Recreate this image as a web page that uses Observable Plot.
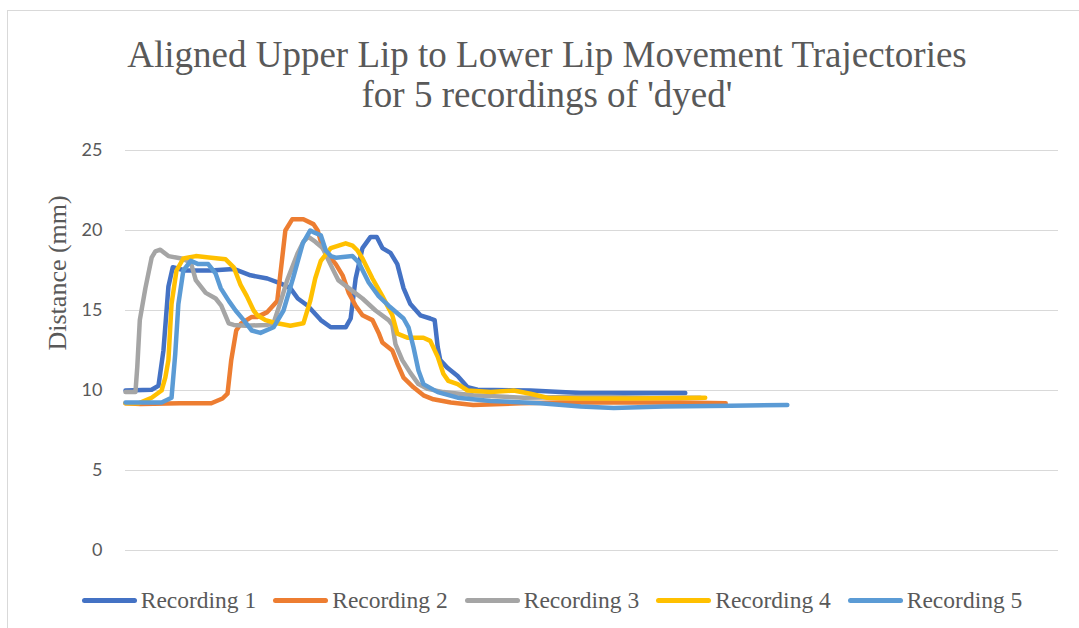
<!DOCTYPE html>
<html>
<head>
<meta charset="utf-8">
<script src="https://cdn.jsdelivr.net/npm/d3@7"></script>
<script src="https://cdn.jsdelivr.net/npm/@observablehq/plot@0.6"></script>
<style>
  html, body { margin: 0; padding: 0; background: #fff; }
  #wrap { position: relative; width: 1079px; height: 628px; overflow: hidden; background: #fff; }
  #frame { position: absolute; left: 7px; top: 10px; width: 1200px; height: 800px; border: 1px solid #d9d9d9; box-sizing: border-box; }
  #chart { position: absolute; left: 0; top: 0; }
  #title { position: absolute; left: 0; top: 35px; width: 1094px; text-align: center; font-size: 37px; line-height: 40px; color: #595959; }
  #legend { position: absolute; left: 0; top: 584px; width: 1104px; display: flex; justify-content: center; gap: 17px; font-size: 23.5px; color: #595959; line-height: 32px; }
  .item { display: flex; align-items: center; }
  .sw { width: 55px; height: 5px; border-radius: 3px; margin-right: 4px; }
</style>
</head>
<body>
<div id="wrap">
  <div id="frame"></div>
  <div id="chart"></div>
  <div id="title" style="font-family:'Liberation Serif',serif">Aligned Upper Lip to Lower Lip Movement Trajectories<br>for 5 recordings of 'dyed'</div>
  <div id="legend" style="font-family:'Liberation Serif',serif"></div>
</div>
<script>
// Series: [frame index, distance (mm)]
const seriesNames = ["Recording 1", "Recording 2", "Recording 3", "Recording 4", "Recording 5"];
const seriesColors = ["#4472C4", "#ED7D31", "#A5A5A5", "#FFC000", "#5B9BD5"];
const yTicks = [0, 5, 10, 15, 20, 25];

const rec1 = [[0,10.0],[4.2,10.05],[5.3,10.3],[6.1,12.5],[6.9,16.5],[7.6,17.7],[9.6,17.5],[13.7,17.5],[17.4,17.6],[20.1,17.2],[22.8,17.0],[24.9,16.7],[26.5,16.4],[27.7,15.75],[29.3,15.3],[31.4,14.4],[33.0,13.95],[35.4,13.95],[36.2,14.5],[37.0,17.0],[38.1,18.9],[39.4,19.6],[40.4,19.6],[41.3,18.9],[42.6,18.6],[43.7,17.9],[44.7,16.4],[45.8,15.4],[47.4,14.7],[49.0,14.5],[49.7,14.4],[50.2,12.7],[50.6,11.9],[51.8,11.4],[53.4,10.9],[55.0,10.2],[56.6,10.05],[65.1,10.0],[73.2,9.85],[81.2,9.85],[90.0,9.85]];

const rec2 = [[0,9.2],[2.4,9.15],[8.8,9.2],[13.8,9.2],[15.6,9.5],[16.4,9.8],[17.0,11.9],[17.8,13.75],[18.6,14.2],[20.3,14.6],[21.2,14.6],[22.8,14.9],[24.4,15.6],[25.2,18.3],[25.7,20.0],[26.8,20.7],[28.6,20.7],[30.2,20.4],[30.9,20.0],[31.7,18.9],[33.8,17.9],[34.9,17.2],[35.9,16.1],[37.0,15.3],[38.1,14.7],[39.7,14.4],[40.7,13.6],[41.3,13.0],[42.9,12.5],[43.7,11.7],[44.7,10.8],[46.3,10.2],[47.9,9.7],[49.5,9.45],[52.3,9.25],[55.9,9.1],[63.5,9.2],[69.9,9.25],[79.6,9.25],[89.2,9.25],[96.5,9.2]];

const rec3 = [[0,9.9],[1.6,9.9],[1.9,11.5],[2.3,14.4],[3.2,16.4],[4.2,18.3],[4.8,18.7],[5.6,18.8],[6.9,18.4],[9.0,18.25],[10.5,18.0],[11.3,16.9],[12.9,16.1],[14.5,15.75],[15.4,15.3],[16.6,14.2],[17.4,14.1],[19.3,14.05],[22.8,14.1],[23.8,14.2],[24.9,15.5],[26.0,16.9],[27.7,18.6],[28.6,19.3],[29.4,19.6],[30.5,19.3],[31.7,18.9],[33.3,17.6],[34.2,16.9],[35.9,16.4],[38.1,15.75],[40.2,15.0],[42.3,14.4],[42.9,14.1],[43.4,12.9],[44.5,11.9],[45.8,11.1],[47.1,10.4],[48.6,10.1],[51.1,9.9],[55.9,9.7],[64.0,9.55],[71.5,9.6],[78.0,9.6],[84.4,9.55],[92.4,9.55]];

const rec4 = [[0,9.2],[2.1,9.2],[4.2,9.55],[5.8,10.0],[6.4,10.8],[6.9,11.9],[7.4,15.4],[8.2,17.5],[9.3,18.25],[11.3,18.4],[13.8,18.3],[16.1,18.2],[17.4,17.7],[18.5,16.6],[19.5,15.9],[20.6,15.0],[21.2,14.7],[22.5,14.4],[23.8,14.25],[26.5,14.05],[28.6,14.2],[29.7,15.6],[30.5,17.0],[31.4,18.1],[33.0,18.9],[35.4,19.2],[36.5,19.05],[37.3,18.75],[38.1,18.25],[39.7,17.0],[41.3,15.9],[42.9,14.7],[43.7,13.55],[45.3,13.3],[47.9,13.3],[49.0,13.1],[50.2,12.1],[51.1,11.05],[51.9,10.6],[53.4,10.4],[55.0,10.0],[58.7,9.9],[62.4,10.0],[65.1,9.8],[67.8,9.55],[73.2,9.5],[81.2,9.5],[93.2,9.55]];

const rec5 = [[0,9.25],[5.8,9.25],[7.4,9.55],[8.0,12.3],[8.5,15.4],[9.3,17.5],[10.5,18.1],[11.7,17.9],[13.3,17.9],[14.5,17.3],[15.3,16.4],[16.6,15.6],[17.7,15.0],[19.0,14.4],[20.3,13.75],[21.7,13.6],[23.8,13.95],[25.4,15.0],[27.0,17.1],[28.5,19.2],[29.7,20.0],[30.2,19.9],[31.4,19.7],[32.2,18.75],[33.0,18.4],[33.8,18.3],[36.5,18.4],[37.5,18.0],[39.1,16.75],[40.7,15.9],[42.3,15.3],[44.7,14.5],[45.5,13.95],[46.3,12.7],[47.1,11.25],[47.9,10.4],[50.2,9.9],[53.4,9.55],[58.7,9.35],[66.7,9.2],[73.2,9.0],[78.5,8.9],[86.5,9.0],[97.3,9.05],[106.4,9.1]];

const allSeries = [rec1, rec2, rec3, rec4, rec5];
const data = allSeries.flatMap((s, i) => s.map(([f, d]) => ({frame: f, dist: d, series: seriesNames[i]})));

const chart = Plot.plot({
  width: 1079,
  height: 600,
  marginLeft: 125,
  marginRight: 21,
  marginTop: 150,
  marginBottom: 50,
  style: {background: "transparent", overflow: "visible"},
  x: {domain: [0, 150], axis: null},
  y: {domain: [0, 25], ticks: yTicks, label: null},
  color: {domain: seriesNames, range: seriesColors},
  marks: [
    Plot.gridY(yTicks, {stroke: "#d9d9d9", strokeOpacity: 1, strokeWidth: 1}),
    Plot.axisY(yTicks, {tickSize: 0, tickPadding: 23, fontSize: 18, fontFamily: "Lato", fill: "#595959", label: null}),
    Plot.text(["Distance (mm)"], {frameAnchor: "left", rotate: -90, dx: -68, fontSize: 26, fontFamily: "Liberation Serif", fill: "#595959"}),
    Plot.line(data, {x: "frame", y: "dist", z: "series", stroke: "series", strokeWidth: 4.5, strokeLinejoin: "round", strokeLinecap: "round", curve: "linear"})
  ]
});
document.getElementById("chart").appendChild(chart);

const legend = document.getElementById("legend");
seriesNames.forEach((n, i) => {
  const it = document.createElement("div");
  it.className = "item";
  const sw = document.createElement("span");
  sw.className = "sw";
  sw.style.background = seriesColors[i];
  const tx = document.createElement("span");
  tx.textContent = n;
  it.appendChild(sw);
  it.appendChild(tx);
  legend.appendChild(it);
});
</script>
</body>
</html>
